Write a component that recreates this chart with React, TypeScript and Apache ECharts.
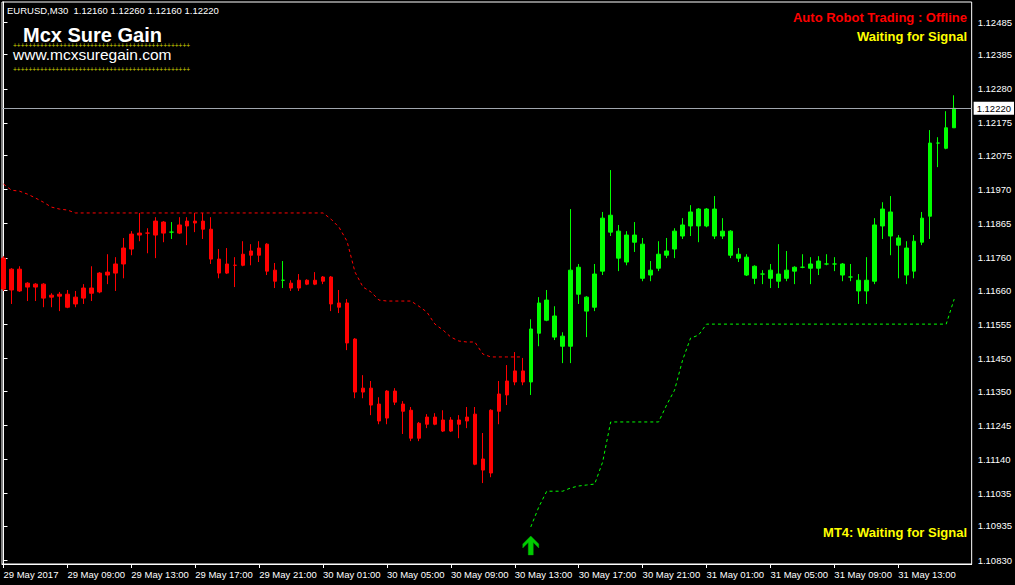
import React, { useEffect, useRef } from "react";
import * as echarts from "echarts";

// ---------- DATA ----------
const headerText = "EURUSD,M30  1.12160 1.12260 1.12160 1.12220";
const timeLabels = [
  "29 May 2017", "29 May 09:00", "29 May 13:00", "29 May 17:00", "29 May 21:00",
  "30 May 01:00", "30 May 05:00", "30 May 09:00", "30 May 13:00", "30 May 17:00",
  "30 May 21:00", "31 May 01:00", "31 May 05:00", "31 May 09:00", "31 May 13:00",
];
const labelBars = [0, 8, 16, 24, 32, 40, 48, 56, 64, 72, 80, 88, 96, 104, 112];
const yTicks = [
  1.1083, 1.10935, 1.11035, 1.1114, 1.11245, 1.1135, 1.1145, 1.11555, 1.1166,
  1.1176, 1.11865, 1.1197, 1.12075, 1.12175, 1.1228, 1.12385, 1.12485,
];

const open = [
  1.11759, 1.11661, 1.11725, 1.1167, 1.11679, 1.11679, 1.11639, 1.11648, 1.11648, 1.11618,
  1.11636, 1.11667, 1.11655, 1.11707, 1.11713, 1.11741, 1.11787, 1.1183, 1.11836, 1.1183,
  1.1187, 1.11839, 1.11836, 1.11858, 1.11873, 1.11873, 1.11848, 1.11756, 1.11713, 1.11737,
  1.11737, 1.11768, 1.11768, 1.11802, 1.11722, 1.11691, 1.11682, 1.11667, 1.11691, 1.11679,
  1.11688, 1.11701, 1.11621, 1.11621, 1.1151, 1.11347, 1.11359, 1.1131, 1.11267, 1.1135,
  1.1131, 1.11291, 1.11205, 1.11248, 1.1127, 1.11261, 1.11227, 1.11261, 1.11258, 1.11279,
  1.11141, 1.11098, 1.11288, 1.11338, 1.11378, 1.11412, 1.11378, 1.11528, 1.1163, 1.11581,
  1.11519, 1.11488, 1.11731, 1.11639, 1.11608, 1.11719, 1.11891, 1.11842, 1.11747, 1.1183,
  1.11802, 1.11707, 1.11728, 1.11768, 1.11787, 1.11827, 1.11858, 1.1191, 1.11858, 1.1191,
  1.11827, 1.11842, 1.11771, 1.11762, 1.11697, 1.1171, 1.11697, 1.1171, 1.11697, 1.11719,
  1.11731, 1.11728, 1.11728, 1.11741, 1.11741, 1.11741, 1.11701, 1.11691, 1.11658, 1.11688,
  1.11858, 1.11901, 1.11821, 1.1179, 1.11719, 1.11808, 1.11888, 1.12113, 1.12097, 1.1216,
];
const close = [
  1.11664, 1.11725, 1.11658, 1.11682, 1.1167, 1.11636, 1.11645, 1.11642, 1.11608, 1.11639,
  1.11667, 1.11651, 1.11713, 1.11716, 1.11741, 1.1179, 1.11833, 1.11836, 1.11836, 1.11873,
  1.11836, 1.11839, 1.11861, 1.11873, 1.11867, 1.11848, 1.11756, 1.11713, 1.11741, 1.11737,
  1.11771, 1.11781, 1.1179, 1.11719, 1.11688, 1.11691, 1.11667, 1.11691, 1.11679, 1.11691,
  1.11701, 1.11618, 1.11608, 1.11498, 1.11347, 1.11359, 1.11307, 1.11258, 1.1135, 1.11316,
  1.11288, 1.11205, 1.11251, 1.1127, 1.11248, 1.11227, 1.11261, 1.11248, 1.1127, 1.11125,
  1.11107, 1.11291, 1.11341, 1.11381, 1.11412, 1.11378, 1.11541, 1.11621, 1.11568, 1.11516,
  1.11488, 1.11722, 1.11648, 1.11596, 1.1171, 1.11882, 1.11839, 1.11759, 1.1183, 1.11808,
  1.11697, 1.11722, 1.11771, 1.11781, 1.11842, 1.11861, 1.11901, 1.11858, 1.1191, 1.11827,
  1.11842, 1.11768, 1.11759, 1.11707, 1.11734, 1.1171, 1.11722, 1.11688, 1.11722, 1.11731,
  1.11731, 1.11741, 1.1175, 1.11741, 1.11741, 1.11707, 1.11701, 1.11658, 1.11691, 1.11861,
  1.1191, 1.11827, 1.11799, 1.11707, 1.11811, 1.11882, 1.12113, 1.12113, 1.1216, 1.1222,
];
const low = [
  1.11658, 1.11618, 1.11655, 1.11627, 1.11627, 1.11608, 1.11608, 1.11596, 1.11605, 1.11608,
  1.11618, 1.11627, 1.11651, 1.11679, 1.11658, 1.11697, 1.11768, 1.11811, 1.11774, 1.11759,
  1.11808, 1.11818, 1.11833, 1.11799, 1.11839, 1.11818, 1.11741, 1.11697, 1.1171, 1.1167,
  1.11734, 1.11737, 1.11747, 1.11707, 1.11667, 1.11667, 1.11658, 1.11658, 1.11676, 1.11676,
  1.11679, 1.11596, 1.1159, 1.11476, 1.11328, 1.11328, 1.11276, 1.11248, 1.11248, 1.11307,
  1.11218, 1.11196, 1.11196, 1.11236, 1.11245, 1.11224, 1.11224, 1.11205, 1.11236, 1.11122,
  1.11067, 1.11085, 1.11248, 1.11307, 1.11368, 1.11368, 1.11338, 1.11488, 1.11565, 1.11507,
  1.11436, 1.11436, 1.11618, 1.11516, 1.11596, 1.11707, 1.11827, 1.11719, 1.11737, 1.11778,
  1.11688, 1.11688, 1.11719, 1.11759, 1.11759, 1.11818, 1.11827, 1.11808, 1.11854, 1.11818,
  1.11818, 1.11759, 1.11747, 1.11704, 1.11679, 1.11679, 1.11667, 1.11667, 1.11688, 1.11679,
  1.11728, 1.11679, 1.11707, 1.11737, 1.11719, 1.11688, 1.11688, 1.11618, 1.11618, 1.11679,
  1.11818, 1.11768, 1.11697, 1.11679, 1.11697, 1.11799, 1.11818, 1.12039, 1.12094, 1.1216,
];
const high = [
  1.11765, 1.11728, 1.11734, 1.11685, 1.11682, 1.11682, 1.11651, 1.11655, 1.11661, 1.11658,
  1.11679, 1.11734, 1.11716, 1.11771, 1.11762, 1.11821, 1.11842, 1.11898, 1.11851, 1.11885,
  1.11873, 1.1187, 1.11885, 1.11885, 1.11898, 1.11898, 1.11885, 1.11787, 1.1179, 1.11762,
  1.11811, 1.11802, 1.11811, 1.11805, 1.11744, 1.1175, 1.11691, 1.1171, 1.11694, 1.11716,
  1.11704, 1.11704, 1.11661, 1.11633, 1.11513, 1.11399, 1.11381, 1.11331, 1.11353, 1.11359,
  1.11319, 1.11301, 1.11255, 1.11279, 1.11282, 1.11291, 1.1127, 1.11276, 1.11301, 1.11301,
  1.11221, 1.11294, 1.11381, 1.1143, 1.1147, 1.11452, 1.11571, 1.11639, 1.11661, 1.11611,
  1.11531, 1.1191, 1.11741, 1.11642, 1.11741, 1.11901, 1.1203, 1.11861, 1.11842, 1.1187,
  1.11821, 1.1175, 1.11811, 1.11821, 1.11851, 1.11882, 1.11922, 1.11913, 1.11913, 1.1195,
  1.11882, 1.11845, 1.1179, 1.11771, 1.11737, 1.11722, 1.11741, 1.11802, 1.11781, 1.11734,
  1.11771, 1.11762, 1.11765, 1.11771, 1.11762, 1.11744, 1.11741, 1.1171, 1.11762, 1.11882,
  1.11931, 1.1195, 1.1183, 1.11811, 1.1183, 1.11901, 1.12153, 1.12131, 1.12211, 1.1226,
];

// trailing stop (downtrend) for bars 0..65
const downStop = [
  1.11987, 1.11968, 1.11965, 1.11956, 1.11944, 1.11931, 1.11916, 1.1191, 1.11907, 1.11898,
  1.11898, 1.11898, 1.11898, 1.11898, 1.11898, 1.11898, 1.11898, 1.11898, 1.11898, 1.11898,
  1.11898, 1.11898, 1.11898, 1.11898, 1.11898, 1.11898, 1.11898, 1.11898, 1.11898, 1.11898,
  1.11898, 1.11898, 1.11898, 1.11898, 1.11898, 1.11898, 1.11898, 1.11898, 1.11898, 1.11898,
  1.11898, 1.11879, 1.11854, 1.11811, 1.11716, 1.1167, 1.11655, 1.1163, 1.11627, 1.11627,
  1.11627, 1.11627, 1.11611, 1.11593, 1.11556, 1.11538, 1.11516, 1.11504, 1.11501, 1.11501,
  1.11464, 1.11455, 1.11455, 1.11455, 1.11455, 1.11455,
];
// trailing stop (uptrend) for bars 66..119
const upStop = [
  1.10932, 1.10993, 1.11042, 1.11042, 1.11042, 1.11052, 1.11058, 1.11061, 1.11064, 1.11132,
  1.11255, 1.11255, 1.11255, 1.11255, 1.11255, 1.11255, 1.11255, 1.11307, 1.11353, 1.11445,
  1.11513, 1.11522, 1.11556, 1.11556, 1.11556, 1.11556, 1.11556, 1.11556, 1.11556, 1.11556,
  1.11556, 1.11556, 1.11556, 1.11556, 1.11556, 1.11556, 1.11556, 1.11556, 1.11556, 1.11556,
  1.11556, 1.11556, 1.11556, 1.11556, 1.11556, 1.11556, 1.11556, 1.11556, 1.11556, 1.11556,
  1.11556, 1.11556, 1.11556, 1.11633,
];
const trendChangeBar = 66;
const greenDojiBars = [21, 35];
const buyArrow = { bar: 66, price: 1.10875 };
const lastPrice = 1.1222;

const RED = "#ff0000";
const LIME = "#00ff00";
const FONT = '"Liberation Sans", Arial, sans-serif';

export default function App() {
  const ref = useRef<HTMLDivElement>(null);

  useEffect(() => {
    document.body.style.margin = "0";
    document.body.style.background = "#000";
    const chart = echarts.init(ref.current!, null, { renderer: "svg" });

    const candles = open.map((o, i) => {
      const up = i >= trendChangeBar || greenDojiBars.includes(i);
      const c = up ? LIME : RED;
      return {
        value: [i, o, close[i], low[i], high[i]],
        itemStyle: {
          color: c, color0: c, borderColor: c, borderColor0: c, borderColorDoji: c,
        },
      };
    });

    const plus = "+".repeat(46);

    chart.setOption({
      animation: false,
      backgroundColor: "#000",
      grid: {
        left: 2, top: 2, right: 42, bottom: 21,
        show: true, borderColor: "#ffffff", borderWidth: 1,
        backgroundColor: "transparent",
      },
      xAxis: {
        type: "value",
        min: -0.1875,
        max: 121.1875,
        axisLine: { show: true, lineStyle: { color: "#fff", width: 1 } },
        axisTick: { show: true, customValues: labelBars, length: 4, lineStyle: { color: "#fff" } },
        axisLabel: {
          customValues: labelBars,
          formatter: (v: number) => timeLabels[labelBars.indexOf(Math.round(v))] ?? "",
          color: "#fff",
          fontFamily: FONT,
          fontSize: 9.5,
          align: "left",
          margin: 5,
        },
        splitLine: { show: false },
      },
      yAxis: {
        type: "value",
        position: "right",
        min: 1.10818,
        max: 1.12547,
        scale: true,
        axisLine: { show: true, lineStyle: { color: "#fff", width: 1 } },
        axisTick: { show: true, customValues: yTicks, length: 4, lineStyle: { color: "#fff" } },
        axisLabel: {
          customValues: yTicks,
          formatter: (v: number) => v.toFixed(5),
          color: "#fff",
          fontFamily: FONT,
          fontSize: 9.5,
          margin: 6,
        },
        splitLine: { show: false },
      },
      series: [
        {
          type: "line",
          data: downStop.map((v, i) => [i, v]),
          showSymbol: false,
          lineStyle: { color: RED, width: 1, type: [3, 3] },
          z: 1,
        },
        {
          type: "line",
          data: upStop.map((v, i) => [i + trendChangeBar, v]),
          showSymbol: false,
          lineStyle: { color: LIME, width: 1, type: [3, 3] },
          z: 1,
          markLine: {
            silent: true,
            precision: 5,
            symbol: ["none", "none"],
            lineStyle: { color: "#a0a6ae", type: "solid", width: 1 },
            label: {
              show: true,
              position: "end",
              formatter: lastPrice.toFixed(5),
              color: "#000",
              backgroundColor: "#fff",
              padding: [2, 3, 1, 3],
              fontFamily: FONT,
              fontSize: 9.5,
              distance: 2,
            },
            data: [{ yAxis: lastPrice }],
          },
        },
        {
          type: "candlestick",
          data: candles,
          barWidth: 4,
          itemStyle: { borderWidth: 1 },
          z: 3,
        },
        {
          type: "scatter",
          data: [[buyArrow.bar, buyArrow.price]],
          symbol: "path://M8,0 L16,8 L16,12 L10.5,6.5 L10.5,19 L5.5,19 L5.5,6.5 L0,12 L0,8 Z",
          symbolSize: [16, 19],
          itemStyle: { color: LIME, borderColor: "#00b000", borderWidth: 0.5 },
          z: 4,
        },
      ],
      graphic: [
        {
          type: "text", x: 7, y: 10,
          style: { text: headerText, fill: "#fff", font: `9.5px ${FONT}`, verticalAlign: "middle" },
        },
        {
          type: "text", x: 23, y: 34.5,
          style: { text: "Mcx Sure Gain", fill: "#fff", font: `bold 20px ${FONT}`, lineHeight: 14, verticalAlign: "middle" },
        },
        {
          type: "text", x: 13, y: 45,
          style: { text: plus, fill: "#d8d800", font: `6.6px ${FONT}`, lineHeight: 4, verticalAlign: "middle" },
        },
        {
          type: "text", x: 13, y: 54.5,
          style: { text: "www.mcxsuregain.com", fill: "#fff", font: `15.5px ${FONT}`, lineHeight: 12, verticalAlign: "middle" },
        },
        {
          type: "text", x: 13, y: 69,
          style: { text: plus, fill: "#d8d800", font: `6.6px ${FONT}`, lineHeight: 4, verticalAlign: "middle" },
        },
        {
          type: "text", x: 967, y: 17,
          style: { text: "Auto Robot Trading : Offline", fill: RED, font: `bold 13px ${FONT}`, align: "right", verticalAlign: "middle" },
        },
        {
          type: "text", x: 967, y: 36,
          style: { text: "Waiting for Signal", fill: "#ffff00", font: `bold 13px ${FONT}`, align: "right", verticalAlign: "middle" },
        },
        {
          type: "text", x: 967, y: 532,
          style: { text: "MT4: Waiting for Signal", fill: "#ffff00", font: `bold 13px ${FONT}`, align: "right", verticalAlign: "middle" },
        },
      ],
    });

    return () => chart.dispose();
  }, []);

  return <div ref={ref} style={{ width: 1015, height: 585 }} />;
}
